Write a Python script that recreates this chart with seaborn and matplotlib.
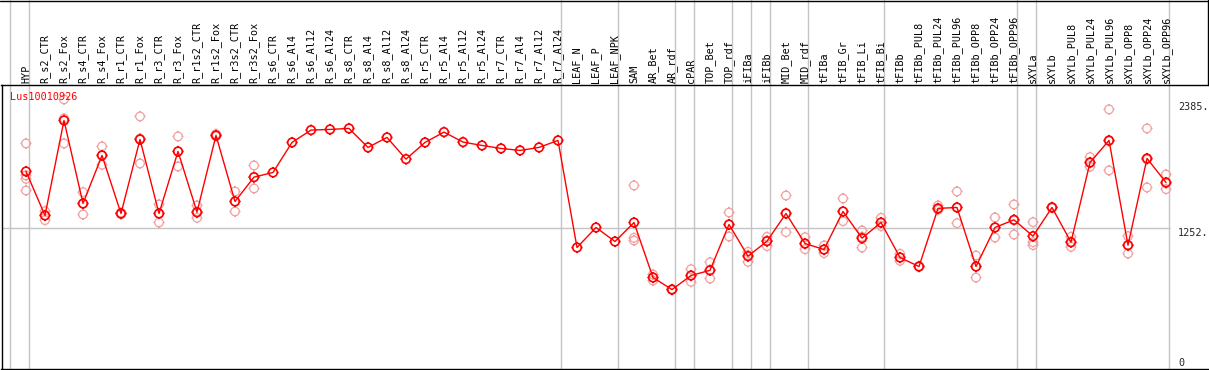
import numpy as np
import pandas as pd
import matplotlib
matplotlib.use("Agg")
import matplotlib.pyplot as plt
import matplotlib.transforms as mtransforms
from matplotlib.path import Path
from matplotlib.lines import Line2D
import seaborn as sns

# ---------------- data ----------------
gene = "Lus10010926"
labels = ["HYP", "R_s2_CTR", "R_s2_Fox", "R_s4_CTR", "R_s4_Fox", "R_r1_CTR", "R_r1_Fox",
          "R_r3_CTR", "R_r3_Fox", "R_r1s2_CTR", "R_r1s2_Fox", "R_r3s2_CTR", "R_r3s2_Fox",
          "R_s6_CTR", "R_s6_Al4", "R_s6_Al12", "R_s6_Al24", "R_s8_CTR", "R_s8_Al4",
          "R_s8_Al12", "R_s8_Al24", "R_r5_CTR", "R_r5_Al4", "R_r5_Al12", "R_r5_Al24",
          "R_r7_CTR", "R_r7_Al4", "R_r7_Al12", "R_r7_Al24", "LEAF_N", "LEAF_P", "LEAF_NPK",
          "SAM", "AR_Bet", "AR_rdf", "cPAR", "TOP_Bet", "TOP_rdf", "iFIBa", "iFIBb",
          "MID_Bet", "MID_rdf", "tFIBa", "tFIB_Gr", "tFIB_Li", "tFIB_Bi", "tFIBb",
          "tFIBb_PUL8", "tFIBb_PUL24", "tFIBb_PUL96", "tFIBb_OPP8", "tFIBb_OPP24",
          "tFIBb_OPP96", "sXYLa", "sXYLb", "sXYLb_PUL8", "sXYLb_PUL24", "sXYLb_PUL96",
          "sXYLb_OPP8", "sXYLb_OPP24", "sXYLb_OPP96"]

mean_vals = [1763, 1367, 2222, 1475, 1907, 1385, 2051, 1385, 1943, 1397, 2087, 1493, 1712,
             1754, 2024, 2135, 2141, 2150, 1979, 2069, 1874, 2024, 2117, 2027, 1997,
             1970, 1952, 1979, 2042, 1079, 1259, 1133,
             1304, 809, 701, 827, 874, 1286, 1001, 1136, 1385, 1115, 1061, 1403, 1163,
             1304, 989, 908, 1431, 1439, 908, 1259, 1328, 1181, 1439, 1127, 1844, 2042,
             1100, 1880, 1664]

nan = np.nan
rep1 = [2015, 1406, 2411, 1577, 1988, 1392, 2258, 1466, 2078, 1457, 2100, 1583, 1817,
        nan, nan, nan, nan, nan, nan, nan, nan, nan, nan, nan, nan, nan, nan, nan, nan,
        nan, nan, nan,
        1637, 836, 705, 884, 946, 1394, 1040, 1175, 1547, 1172, 1097, 1520, 1232,
        1346, 1022, 912, 1457, 1583, 1007, 1349, 1466, 1307, 1445, 1175, 1892, 2321,
        1181, 2150, 1736]
rep2 = [1727, 1325, 2015, 1376, 1823, 1378, 1835, 1304, 1808, 1346, 2080, 1403, 1610,
        nan, nan, nan, nan, nan, nan, nan, nan, nan, nan, nan, nan, nan, nan, nan, nan,
        nan, nan, nan,
        1166, 782, 698, 770, 800, 1178, 950, 1091, 1217, 1064, 1028, 1316, 1079,
        1271, 959, 905, 1421, 1298, 809, 1169, 1196, 1127, 1435, 1085, 1805, 1772,
        1025, 1619, 1604]
rep3 = [1697, 1370, 2240, 1472, 1910, 1385, 2060, 1385, 1943, 1390, 2085, 1493, 1710,
        nan, nan, nan, nan, nan, nan, nan, nan, nan, nan, nan, nan, nan, nan, nan, nan,
        nan, nan, nan,
        1142, 810, 701, 827, 875, 1286, 1010, 1140, 1390, 1110, 1060, 1403, 1175,
        1300, 990, 908, 1418, 1440, 908, 1260, 1325, 1100, 1439, 1125, 1838, 2035,
        1095, 1870, 1655]
rep4 = [1592] + [nan] * 60

# group boundaries (index of first column of each group, plus end)
group_starts = [0, 1, 29, 32, 35, 36, 38, 39, 40, 42, 46, 53, 54, 61]
axis_ticks = [2385, 1252, 0]

# ---------------- frames ----------------
n = len(labels)
idx = np.arange(n)
df_mean = pd.DataFrame({"x": idx, "v": mean_vals})
reps = pd.concat([pd.DataFrame({"x": idx, "v": r}) for r in (rep1, rep2, rep3, rep4)],
                 ignore_index=True).dropna()

# ---------------- style ----------------
sns.set_theme(style="white")
plt.rcParams["font.family"] = ["DejaVu Sans Mono", "DejaVu Sans"]

W, H = 1209, 370
fig = plt.figure(figsize=(W / 100, H / 100), dpi=100)
fig.patch.set_facecolor("white")

# pixel geometry
ax_left_px, ax_right_px = 1.5, 1209
ax_top_px, ax_bot_px = 85, 369
ax = fig.add_axes([ax_left_px / W, (H - ax_bot_px) / H,
                   (ax_right_px - ax_left_px) / W, (ax_bot_px - ax_top_px) / H])
ax.set_facecolor("white")

col0_px, col_w = 26, 19          # pixel of column 0 and column pitch
zero_px, px_per_unit = 367.5, 0.1112
ax.set_xlim((ax_left_px - col0_px) / col_w, (ax_right_px - col0_px) / col_w)
ax.set_ylim((zero_px - ax_bot_px) / px_per_unit, (zero_px - ax_top_px) / px_per_unit)

# custom "sun" marker: circle with four short ticks
circ = Path.unit_circle()
t0, t1 = 1.0, 1.3
tick_verts = [(0, t0), (0, t1), (0, -t0), (0, -t1),
              (t0, 0), (t1, 0), (-t0, 0), (-t1, 0)]
tick_codes = [Path.MOVETO, Path.LINETO] * 4
sun = Path(np.concatenate([circ.vertices, tick_verts]),
           np.concatenate([circ.codes, tick_codes]))

light = "#f0a0a0"
red = "#ff0000"
gray = "#c4c4c4"

# grid lines
right_end = (1170 - col0_px) / col_w
ax.hlines(axis_ticks[1], ax.get_xlim()[0], right_end, color=gray, lw=1.0, zorder=1)
blend = mtransforms.blended_transform_factory(ax.transData, ax.transAxes)
top_ext = 1 + (ax_top_px) / (ax_bot_px - ax_top_px)
for s in group_starts:
    xb = s - (col0_px - 10) / col_w
    ax.add_line(Line2D([xb, xb], [0, top_ext], transform=blend, color=gray,
                       lw=1.0, clip_on=False, zorder=1))

# replicates
sns.scatterplot(data=reps, x="x", y="v", ax=ax, marker=sun, s=64,
                facecolors="none", edgecolors=light, linewidths=0.9, zorder=2,
                legend=False)
# mean line
sns.lineplot(data=df_mean, x="x", y="v", ax=ax, color=red, lw=1.0, zorder=3,
             legend=False)
sns.scatterplot(data=df_mean, x="x", y="v", ax=ax, marker=sun, s=64,
                facecolors="none", edgecolors=red, linewidths=1.2, zorder=4,
                legend=False)

ax.set_xlabel("")
ax.set_ylabel("")
ax.set_xticks([])
ax.set_yticks([])
for side in ["top", "bottom", "left"]:
    ax.spines[side].set_visible(True)
    ax.spines[side].set_color("black")
    ax.spines[side].set_linewidth(1.0)
ax.spines["right"].set_visible(False)

# column labels in the header
for i, lab in enumerate(labels):
    ax.text(i, 1 + 2 / (ax_bot_px - ax_top_px), lab, transform=blend, rotation=90,
            ha="center", va="bottom", fontsize=7.3, color="black", clip_on=False)

# right-hand value labels
xr = (1178 - col0_px) / col_w
ax.text(xr, axis_ticks[0], f"{axis_ticks[0]}.", ha="left", va="top", fontsize=7.3)
ax.text(xr, axis_ticks[1], f"{axis_ticks[1]}.", ha="left", va="top", fontsize=7.3)
ax.text(xr, axis_ticks[2], f"{axis_ticks[2]}", ha="left", va="bottom", fontsize=7.3)

# gene name
ax.text((10 - ax_left_px) / (ax_right_px - ax_left_px),
        (ax_bot_px - 97) / (ax_bot_px - ax_top_px), gene, transform=ax.transAxes,
        ha="left", va="center", fontsize=7.3, color=red)

# outer header border
fig.add_artist(Line2D([0, 1], [1 - 0.5 / H, 1 - 0.5 / H], transform=fig.transFigure,
                      color="black", lw=1.0))
fig.add_artist(Line2D([1 - 1.5 / W, 1 - 1.5 / W], [1, (H - ax_top_px) / H],
                      transform=fig.transFigure, color="black", lw=1.0))

fig.savefig("out.png", dpi=100, facecolor="white")
